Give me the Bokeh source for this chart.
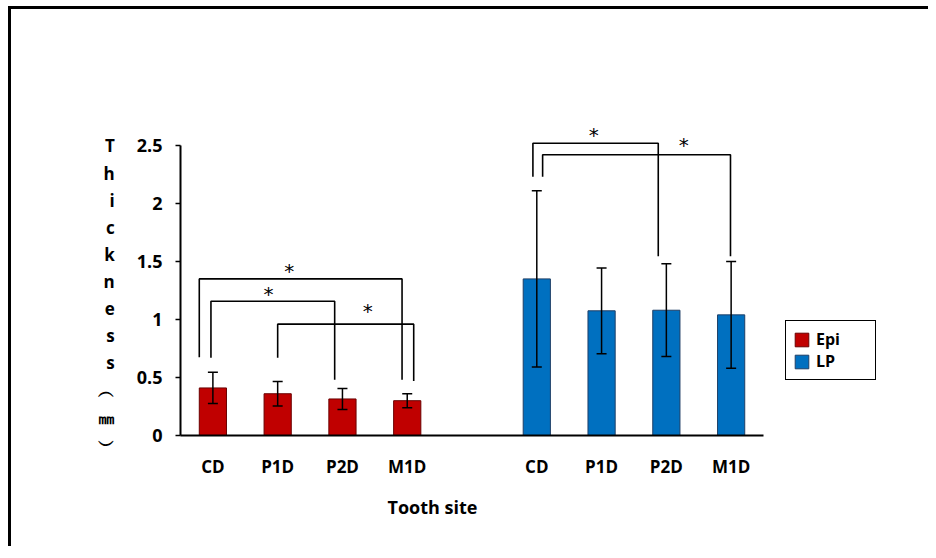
from bokeh.plotting import figure
from bokeh.models import (FixedTicker, Whisker, TeeHead, ColumnDataSource, Legend,
                          LegendItem, Title)
from bokeh.core.properties import value
from bokeh.embed import file_html
from bokeh.resources import INLINE

# ---- data ----
sites = ["CD", "P1D", "P2D", "M1D"]
epi_mean = [0.41, 0.36, 0.315, 0.30]
epi_sd = [0.135, 0.105, 0.09, 0.06]
lp_mean = [1.35, 1.075, 1.08, 1.04]
lp_sd = [0.76, 0.37, 0.40, 0.46]
y_ticks = [0, 0.5, 1, 1.5, 2, 2.5]
y_tick_labels = ["0", "0.5", "1", "1.5", "2", "2.5"]
y_label_chars = ["T", "h", "i", "c", "k", "n", "e", "s", "s", "︵", "㎜", "︶"]
x_title = "Tooth site"
series_names = ["Epi", "LP"]

# significance brackets (positions in category slots)
br_left_x = [-0.21, -0.03, 1.0, 4.94, 5.09]
br_right_x = [2.92, 1.88, 3.1, 6.875, 7.99]
br_top = [1.35, 1.158, 0.96, 2.52, 2.42]
br_left_bottom = [0.675, 0.67, 0.67, 2.23, 2.23]
br_right_bottom = [0.48, 0.48, 0.47, 1.545, 1.545]
star_x = [1.18, 0.86, 2.39, 5.88, 7.27]
star_y = [1.431, 1.227, 1.078, 2.60, 2.515]

FONT = "Open Sans"
RED = "#C00000"
BLUE = "#0070C0"

epi_x = [i for i in range(len(sites))]
lp_x = [i + len(sites) + 1 for i in range(len(sites))]

p = figure(width=920, height=540, output_backend="svg", toolbar_location=None,
           x_range=(-0.5, 10.46), y_range=(0, 2.888),
           min_border_left=169, min_border_right=41,
           min_border_top=91, min_border_bottom=114)
p.styles = {"border-left": "3px solid black", "border-top": "3px solid black",
            "margin-left": "8px", "margin-top": "6px"}
p.background_fill_color = "white"
p.border_fill_color = "white"
p.outline_line_color = None
p.xgrid.visible = False
p.ygrid.visible = False

src_epi = ColumnDataSource(dict(x=epi_x, top=epi_mean,
                                lo=[m - s for m, s in zip(epi_mean, epi_sd)],
                                hi=[m + s for m, s in zip(epi_mean, epi_sd)]))
src_lp = ColumnDataSource(dict(x=lp_x, top=lp_mean,
                               lo=[m - s for m, s in zip(lp_mean, lp_sd)],
                               hi=[m + s for m, s in zip(lp_mean, lp_sd)]))

r_epi = p.vbar(x="x", top="top", width=0.42, source=src_epi,
               fill_color=RED, line_color="#6a0000", line_width=1)
r_lp = p.vbar(x="x", top="top", width=0.42, source=src_lp,
              fill_color=BLUE, line_color="#1f3f66", line_width=1)

for src in (src_epi, src_lp):
    w = Whisker(source=src, base="x", lower="lo", upper="hi", level="annotation",
                line_color="black", line_width=1.5,
                upper_head=TeeHead(size=10, line_color="black", line_width=1.5),
                lower_head=TeeHead(size=10, line_color="black", line_width=1.5))
    p.add_layout(w)

# brackets
xs = [[l, l, r, r] for l, r in zip(br_left_x, br_right_x)]
ys = [[lb, t, t, rb] for lb, t, rb in zip(br_left_bottom, br_top, br_right_bottom)]
p.multi_line(xs=xs, ys=ys, line_color="black", line_width=1.6)
p.text(x=star_x, y=star_y, text=["*"] * len(star_x), text_font=value("DejaVu Sans"),
       text_font_size="20px", text_align="center", text_baseline="alphabetic",
       y_offset=1, text_color="black")

# axes
p.yaxis.ticker = FixedTicker(ticks=y_ticks)
p.yaxis.major_label_overrides = {t: l for t, l in zip(y_ticks, y_tick_labels)}
p.yaxis.bounds = (0, 2.5)
p.yaxis.axis_line_width = 2
p.yaxis.axis_line_color = "black"
p.yaxis.major_tick_out = 5
p.yaxis.major_tick_in = 0
p.yaxis.major_tick_line_width = 1.5
p.yaxis.minor_tick_line_color = None
p.yaxis.major_label_standoff = 13
p.yaxis.major_label_text_font = FONT
p.yaxis.major_label_text_font_style = "bold"
p.yaxis.major_label_text_font_size = "18px"
p.yaxis.major_label_text_color = "black"
# two leading empty lines shift the stacked label down to match the reference
p.yaxis.axis_label = "\n".join(["", ""] + y_label_chars)
p.yaxis.axis_label_orientation = "horizontal"
p.yaxis.axis_label_align = "center"
p.yaxis.axis_label_text_line_height = 1.18
p.yaxis.axis_label_standoff = 19
p.yaxis.axis_label_text_font = FONT
p.yaxis.axis_label_text_font_style = "bold"
p.yaxis.axis_label_text_font_size = "17px"
p.yaxis.axis_label_text_color = "black"

p.xaxis.ticker = FixedTicker(ticks=epi_x + lp_x)
p.xaxis.major_label_overrides = {x: s for x, s in zip(epi_x + lp_x, sites + sites)}
p.xaxis.bounds = (-0.5, 8.5)
p.xaxis.axis_line_width = 2
p.xaxis.axis_line_color = "black"
p.xaxis.major_tick_line_color = None
p.xaxis.major_tick_out = 0
p.xaxis.minor_tick_line_color = None
p.xaxis.major_label_standoff = 19
p.xaxis.major_label_text_font = FONT
p.xaxis.major_label_text_font_style = "bold"
p.xaxis.major_label_text_font_size = "17px"
p.xaxis.major_label_text_color = "black"

p.add_layout(Title(text=x_title, align="left", offset=207, standoff=25,
                   text_font=FONT, text_font_style="bold", text_font_size="18px",
                   text_color="black"), "below")

legend = Legend(items=[LegendItem(label=series_names[0], renderers=[r_epi]),
                       LegendItem(label=series_names[1], renderers=[r_lp])],
                location=(605, 55), orientation="vertical",
                border_line_color="black", border_line_width=1.5, border_line_alpha=1,
                background_fill_color="white", background_fill_alpha=1,
                glyph_width=17, glyph_height=17, label_standoff=6,
                label_width=52, padding=7, spacing=0, margin=0,
                label_text_font=FONT, label_text_font_style="bold",
                label_text_font_size="16px", label_height=17,
                label_text_color="black")
p.add_layout(legend)

open("out.html", "w").write(file_html(p, INLINE))
